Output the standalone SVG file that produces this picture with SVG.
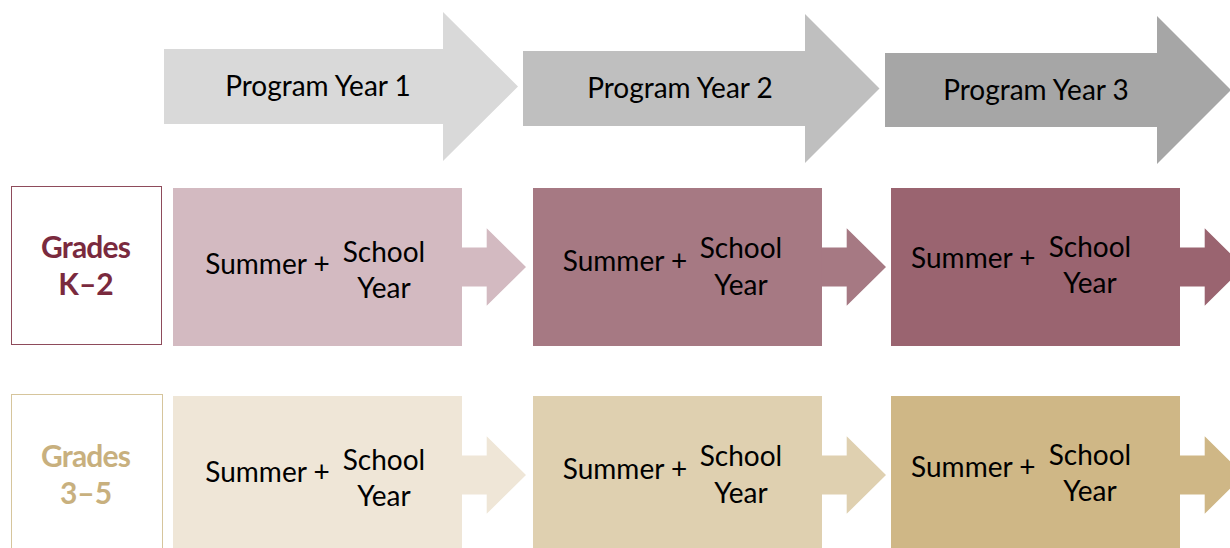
<svg xmlns="http://www.w3.org/2000/svg" width="1230" height="548" viewBox="0 0 1230 548">
  <style>
    .lbl { font-family: Lato, "Open Sans", "Liberation Sans", sans-serif; font-size: 28px; fill: #000; }
    .mid { text-anchor: middle; }
    .grade { font-family: Lato, "Open Sans", "Liberation Sans", sans-serif; font-size: 30px; font-weight: bold; text-anchor: middle; }
    .k2 { fill: #7a2a3e; }
    .g35 { fill: #c8b07e; }
  </style>

  <!-- program year header arrows -->
  <g id="year1">
    <polygon points="164,49 443,49 443,12 518,86.5 443,161 443,124 164,124" fill="#d9d9d9"/>
    <text class="lbl mid" x="318" y="95.7">Program Year 1</text>
  </g>
  <g id="year2">
    <polygon points="523,51 805,51 805,14 879.5,88.5 805,163 805,126 523,126" fill="#bfbfbf"/>
    <text class="lbl mid" x="680" y="98">Program Year 2</text>
  </g>
  <g id="year3">
    <polygon points="885,53 1157,53 1157,16 1231,90 1157,164 1157,127 885,127" fill="#a6a6a6"/>
    <text class="lbl mid" x="1036" y="100">Program Year 3</text>
  </g>

  <!-- grade band labels -->
  <g id="gradesK2">
    <rect x="11.5" y="186.5" width="150" height="158" fill="#fff" stroke="#8e4b5b" stroke-width="1"/>
    <text class="grade k2" x="86" y="257.7" textLength="90" lengthAdjust="spacing">Grades</text>
    <text class="grade k2" x="86" y="295.3">K–2</text>
  </g>
  <g id="grades35">
    <rect x="11.5" y="394.5" width="151" height="160" fill="#fff" stroke="#d6c59c" stroke-width="1"/>
    <text class="grade g35" x="86" y="466.7" textLength="90" lengthAdjust="spacing">Grades</text>
    <text class="grade g35" x="86" y="504.3">3–5</text>
  </g>

  <!-- K-2 row -->
  <g id="k2y1">
    <rect x="173" y="188" width="289" height="158" fill="#d3bac1"/>
    <text class="lbl mid" x="267.5" y="274.3">Summer +</text>
    <text class="lbl mid" x="384" y="261.7">School</text>
    <text class="lbl mid" x="384" y="298.3">Year</text>
  </g>
  <g id="k2y2">
    <rect x="533" y="188" width="289" height="158" fill="#a67983"/>
    <text class="lbl mid" x="625" y="270.5">Summer +</text>
    <text class="lbl mid" x="741" y="258">School</text>
    <text class="lbl mid" x="741" y="294.5">Year</text>
  </g>
  <g id="k2y3">
    <rect x="891" y="188" width="289" height="158" fill="#9a6470"/>
    <text class="lbl mid" x="973.3" y="268.3">Summer +</text>
    <text class="lbl mid" x="1090" y="256.7">School</text>
    <text class="lbl mid" x="1090" y="293.3">Year</text>
  </g>

  <!-- 3-5 row -->
  <g id="g35y1">
    <rect x="173" y="396" width="289" height="158" fill="#efe6d7"/>
    <text class="lbl mid" x="267.5" y="482.3">Summer +</text>
    <text class="lbl mid" x="384" y="469.7">School</text>
    <text class="lbl mid" x="384" y="506.3">Year</text>
  </g>
  <g id="g35y2">
    <rect x="533" y="396" width="289" height="158" fill="#dfd0b0"/>
    <text class="lbl mid" x="625" y="478.5">Summer +</text>
    <text class="lbl mid" x="741" y="466">School</text>
    <text class="lbl mid" x="741" y="502.5">Year</text>
  </g>
  <g id="g35y3">
    <rect x="891" y="396" width="289" height="158" fill="#cfb786"/>
    <text class="lbl mid" x="973.3" y="476.5">Summer +</text>
    <text class="lbl mid" x="1090" y="464.5">School</text>
    <text class="lbl mid" x="1090" y="500.5">Year</text>
  </g>

  <!-- connectors: block arrows leaving each box -->
  <g id="connectors">
    <polygon points="461.5,247.5 486.7,247.5 486.7,228.2 526,267 486.7,305.8 486.7,286.5 461.5,286.5" fill="#d3bac1"/>
    <polygon points="821.5,247.5 846.7,247.5 846.7,228.2 886,267 846.7,305.8 846.7,286.5 821.5,286.5" fill="#a67983"/>
    <polygon points="1179.5,247.5 1204.7,247.5 1204.7,228.2 1244,267 1204.7,305.8 1204.7,286.5 1179.5,286.5" fill="#9a6470"/>
    <polygon points="461.5,455.5 486.7,455.5 486.7,436.2 526,475 486.7,513.8 486.7,494.5 461.5,494.5" fill="#efe6d7"/>
    <polygon points="821.5,455.5 846.7,455.5 846.7,436.2 886,475 846.7,513.8 846.7,494.5 821.5,494.5" fill="#dfd0b0"/>
    <polygon points="1179.5,455.5 1204.7,455.5 1204.7,436.2 1244,475 1204.7,513.8 1204.7,494.5 1179.5,494.5" fill="#cfb786"/>
  </g>
</svg>
